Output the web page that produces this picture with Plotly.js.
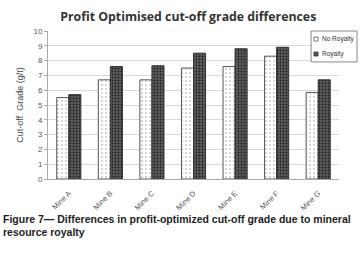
<!DOCTYPE html>
<html><head><meta charset="utf-8">
<script src="https://cdn.plot.ly/plotly-3.0.1.min.js"></script>
<style>body{margin:0;background:#fff}#c{width:360px;height:258px}</style>
</head><body><div id="c"></div>
<script>
const categories = ["Mine A","Mine B","Mine C","Mine D","Mine E","Mine F","Mine G"];
const noRoyalty = [5.5, 6.7, 6.7, 7.5, 7.6, 8.3, 5.85];
const royalty = [5.7, 7.6, 7.65, 8.5, 8.8, 8.9, 6.7];
const yTicks = [0,1,2,3,4,5,6,7,8,9,10];
const seriesNames = ["No Royalty","Royalty"];

const traces = [
  {type:'bar', name:seriesNames[0], x:categories, y:noRoyalty,
   marker:{color:'#ffffff', line:{color:'#555555', width:1},
     pattern:{shape:'.', fgcolor:'#999999', bgcolor:'#ffffff', size:4, solidity:0.12}}},
  {type:'bar', name:seriesNames[1], x:categories, y:royalty,
   marker:{color:'#555555', line:{color:'#333333', width:1},
     pattern:{shape:'.', fgcolor:'#1e1e1e', bgcolor:'#5c5c5c', size:3, solidity:0.3}}}
];
const legendShapes = [
  {type:'rect', xref:'paper', yref:'paper', x0:0.904, x1:1.062, y0:0.791, y1:1.0, line:{color:'#888', width:1}, fillcolor:'#fff', layer:'above'},
  {type:'rect', xref:'paper', yref:'paper', x0:0.914, x1:0.928, y0:0.932, y1:0.959, line:{color:'#555', width:0.8}, fillcolor:'#fff', layer:'above'},
  {type:'rect', xref:'paper', yref:'paper', x0:0.914, x1:0.928, y0:0.831, y1:0.858, line:{color:'#333', width:0.8}, fillcolor:'#555', layer:'above'}
];
const layout = {
  width:360, height:258, margin:{l:48, r:21, t:31, b:79},
  paper_bgcolor:'#fff', plot_bgcolor:'#fff',
  barmode:'group', bargap:0.42, bargroupgap:0,
  font:{family:'Liberation Sans, Arial, sans-serif', color:'#555'},
  title:{text:'<b>Profit Optimised cut-off grade differences</b>', x:0.523, xanchor:'center', y:0.935, yanchor:'middle',
    font:{family:'Open Sans, sans-serif', size:12.3, color:'#333'}},
  xaxis:{tickangle:-45, tickfont:{size:7.5, color:'#555'}, showline:true, linecolor:'#aaa', linewidth:1,
    ticks:'outside', ticklen:6, tickcolor:'rgba(0,0,0,0)', showgrid:false},
  yaxis:{range:[0,10], tickvals:yTicks, tickfont:{size:8, color:'#555'}, showline:true, linecolor:'#aaa', linewidth:1,
    gridcolor:'#d9d9d9', zeroline:false, ticks:'outside', ticklen:3, tickcolor:'#aaa',
    title:{text:'Cut-off  Grade (g/t)', font:{size:9, color:'#444'}, standoff:8}},
  showlegend:false,
  shapes:legendShapes,
  annotations:[
    {xref:'paper', yref:'paper', x:0.935, y:0.946, xanchor:'left', yanchor:'middle', showarrow:false,
     text:seriesNames[0], font:{size:6.5, color:'#333'}},
    {xref:'paper', yref:'paper', x:0.935, y:0.845, xanchor:'left', yanchor:'middle', showarrow:false,
     text:seriesNames[1], font:{size:6.5, color:'#333'}},
    {xref:'paper', yref:'paper', x:-0.162, y:-0.270, xanchor:'left', yanchor:'middle', align:'left', showarrow:false,
     text:'<b>Figure 7— Differences in profit-optimized cut-off grade due to mineral</b>',
     font:{family:'Liberation Sans, Arial, sans-serif', size:10.5, color:'#222'}},
    {xref:'paper', yref:'paper', x:-0.162, y:-0.358, xanchor:'left', yanchor:'middle', align:'left', showarrow:false,
     text:'<b>resource royalty</b>',
     font:{family:'Liberation Sans, Arial, sans-serif', size:10.5, color:'#222'}}
  ]
};
Plotly.newPlot('c', traces, layout, {displayModeBar:false, staticPlot:true});
</script></body></html>
